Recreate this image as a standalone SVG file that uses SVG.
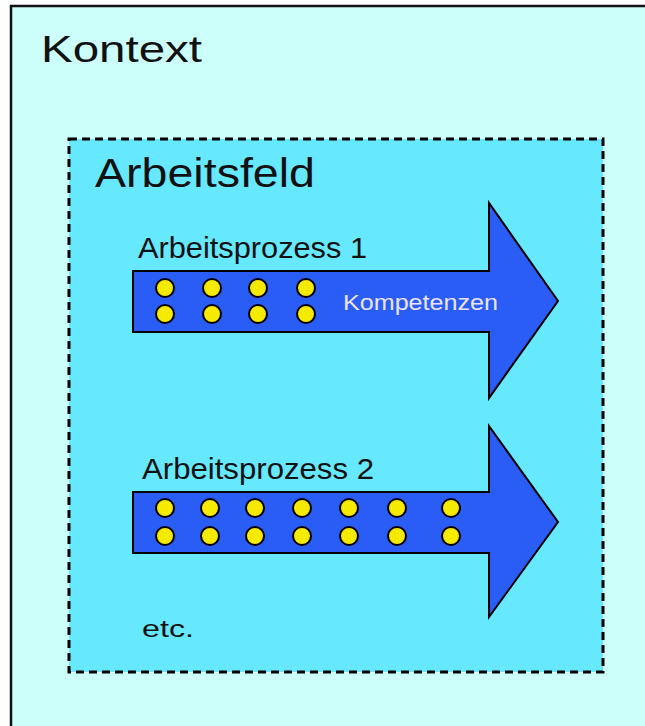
<svg xmlns="http://www.w3.org/2000/svg" width="645" height="726" viewBox="0 0 645 726">
<style>
.t{font-family:"Liberation Sans",Arial,sans-serif;fill:#111}
.arrow{fill:#2a5cf6;stroke:#000;stroke-width:2;stroke-linejoin:miter}
.dot{fill:#f5ea00;stroke:#000;stroke-width:2}
</style>
<rect width="645" height="726" fill="#ffffff"/>
<g id="kontext">
<rect x="11" y="6" width="700" height="800" fill="#ccfffa" stroke="#111" stroke-width="2.5"/>
<text class="t" x="41" y="62" font-size="37" textLength="161" lengthAdjust="spacingAndGlyphs">Kontext</text>
</g>
<g id="arbeitsfeld">
<rect x="69" y="139" width="534" height="533" fill="#66e8ff" stroke="#000" stroke-width="3" stroke-dasharray="8 5"/>
<text class="t" x="95" y="187" font-size="41" textLength="220" lengthAdjust="spacingAndGlyphs">Arbeitsfeld</text>
</g>
<g id="arbeitsprozess1">
<path class="arrow" d="M133,271 H489 V203 L558,301 L489,398 V332 H133 Z"/>
<text class="t" x="138" y="258" font-size="29" textLength="229" lengthAdjust="spacingAndGlyphs">Arbeitsprozess 1</text>
<g>
<circle class="dot" cx="165" cy="288" r="9"/><circle class="dot" cx="165" cy="314" r="9"/>
<circle class="dot" cx="212" cy="288" r="9"/><circle class="dot" cx="212" cy="314" r="9"/>
<circle class="dot" cx="258" cy="288" r="9"/><circle class="dot" cx="258" cy="314" r="9"/>
<circle class="dot" cx="306" cy="288" r="9"/><circle class="dot" cx="306" cy="314" r="9"/>
</g>
<text x="343" y="310" font-family="Liberation Sans,Arial,sans-serif" font-size="22" fill="#ece4ff" textLength="155" lengthAdjust="spacingAndGlyphs">Kompetenzen</text>
</g>
<g id="arbeitsprozess2">
<path class="arrow" d="M133,492 H489 V426 L558,522 L489,617 V553 H133 Z"/>
<text class="t" x="142" y="479" font-size="29" textLength="232" lengthAdjust="spacingAndGlyphs">Arbeitsprozess 2</text>
<g>
<circle class="dot" cx="165" cy="508" r="9"/><circle class="dot" cx="165" cy="536" r="9"/>
<circle class="dot" cx="210" cy="508" r="9"/><circle class="dot" cx="210" cy="536" r="9"/>
<circle class="dot" cx="255" cy="508" r="9"/><circle class="dot" cx="255" cy="536" r="9"/>
<circle class="dot" cx="302" cy="508" r="9"/><circle class="dot" cx="302" cy="536" r="9"/>
<circle class="dot" cx="349" cy="508" r="9"/><circle class="dot" cx="349" cy="536" r="9"/>
<circle class="dot" cx="397" cy="508" r="9"/><circle class="dot" cx="397" cy="536" r="9"/>
<circle class="dot" cx="451" cy="508" r="9"/><circle class="dot" cx="451" cy="536" r="9"/>
</g>
</g>
<g id="etc">
<text class="t" x="142" y="637" font-size="24" textLength="52" lengthAdjust="spacingAndGlyphs">etc.</text>
</g>
<g id="connectors"/>
</svg>
